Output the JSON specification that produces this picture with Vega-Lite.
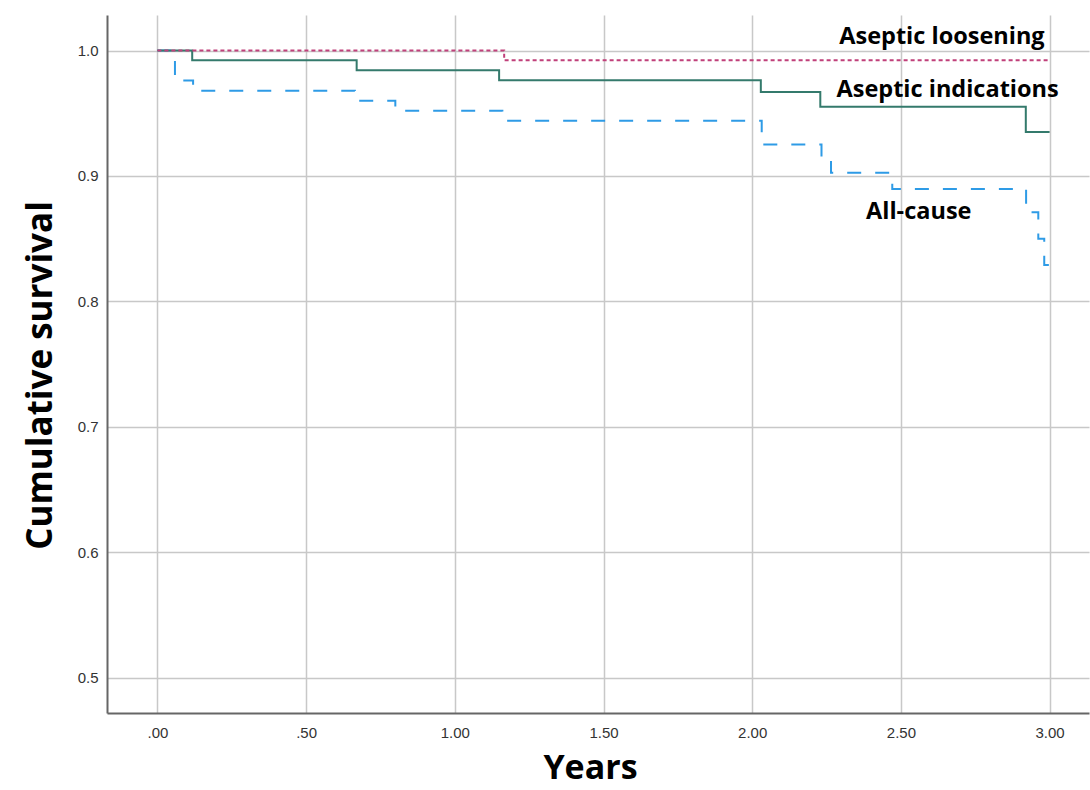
{
  "$schema": "https://vega.github.io/schema/vega-lite/v6.json",
  "width": 982,
  "height": 698,
  "autosize": {"type": "none"},
  "padding": {"left": 107, "top": 15, "right": 1, "bottom": 77},
  "background": "white",
  "config": {"view": {"stroke": null}},
  "datasets": {
    "curves": [
      {"series": "All-cause", "years": 0, "survival": 1.0},
      {"series": "All-cause", "years": 0.059, "survival": 0.976},
      {"series": "All-cause", "years": 0.12, "survival": 0.968},
      {"series": "All-cause", "years": 0.664, "survival": 0.960},
      {"series": "All-cause", "years": 0.80, "survival": 0.952},
      {"series": "All-cause", "years": 1.16, "survival": 0.944},
      {"series": "All-cause", "years": 2.032, "survival": 0.925},
      {"series": "All-cause", "years": 2.233, "survival": 0.915},
      {"series": "All-cause", "years": 2.265, "survival": 0.9026},
      {"series": "All-cause", "years": 2.471, "survival": 0.8896},
      {"series": "All-cause", "years": 2.921, "survival": 0.871},
      {"series": "All-cause", "years": 2.962, "survival": 0.850},
      {"series": "All-cause", "years": 2.982, "survival": 0.829},
      {"series": "All-cause", "years": 3.0, "survival": 0.829},
      {"series": "Aseptic indications", "years": 0, "survival": 1.0},
      {"series": "Aseptic indications", "years": 0.117, "survival": 0.9922},
      {"series": "Aseptic indications", "years": 0.670, "survival": 0.9842},
      {"series": "Aseptic indications", "years": 1.149, "survival": 0.9762},
      {"series": "Aseptic indications", "years": 2.029, "survival": 0.9669},
      {"series": "Aseptic indications", "years": 2.229, "survival": 0.9552},
      {"series": "Aseptic indications", "years": 2.920, "survival": 0.935},
      {"series": "Aseptic indications", "years": 3.0, "survival": 0.935},
      {"series": "Aseptic loosening", "years": 0, "survival": 1.0},
      {"series": "Aseptic loosening", "years": 1.166, "survival": 0.9922},
      {"series": "Aseptic loosening", "years": 3.0, "survival": 0.9922}
    ],
    "labels": [
      {"label": "Aseptic loosening", "years": 2.638, "survival": 1.0052},
      {"label": "Aseptic indications", "years": 2.657, "survival": 0.9632},
      {"label": "All-cause", "years": 2.560, "survival": 0.8654}
    ]
  },
  "layer": [
    {
      "data": {"name": "curves"},
      "transform": [{"filter": "datum.series === 'All-cause'"}],
      "mark": {"type": "line", "interpolate": "step-after", "strokeWidth": 2, "color": "#2e9be6", "strokeDash": [14, 14]},
      "encoding": {
        "x": {
          "field": "years", "type": "quantitative",
          "scale": {"domain": [-0.1695, 3.1325], "nice": false, "zero": false},
          "axis": {
            "values": [0, 0.5, 1, 1.5, 2, 2.5, 3],
            "labelExpr": "datum.value < 1 ? replace(format(datum.value, '.2f'), '0.', '.') : format(datum.value, '.2f')",
            "title": "Years",
            "grid": true, "gridColor": "#c8c8c8", "gridWidth": 1.5,
            "ticks": false,
            "domainColor": "#666666", "domainWidth": 2,
            "labelFont": "Liberation Sans", "labelFontSize": 15, "labelColor": "#333333", "labelPadding": 12,
            "titleFont": "Open Sans", "titleFontSize": 34, "titleFontWeight": "bold", "titleColor": "#000000",
            "titleBaseline": "alphabetic", "titleY": 65, "titleX": 483
          }
        },
        "y": {
          "field": "survival", "type": "quantitative",
          "scale": {"domain": [0.472, 1.0283], "nice": false, "zero": false},
          "axis": {
            "values": [0.5, 0.6, 0.7, 0.8, 0.9, 1.0],
            "format": ".1f",
            "title": "Cumulative survival",
            "grid": true, "gridColor": "#c8c8c8", "gridWidth": 1.5,
            "ticks": false,
            "domainColor": "#666666", "domainWidth": 2,
            "labelFont": "Liberation Sans", "labelFontSize": 15, "labelColor": "#333333", "labelPadding": 9,
            "titleFont": "Open Sans", "titleFontSize": 35, "titleFontWeight": "bold", "titleColor": "#000000",
            "titleBaseline": "alphabetic", "titleAngle": -90, "titleX": -56, "titleY": 360
          }
        }
      }
    },
    {
      "data": {"name": "curves"},
      "transform": [{"filter": "datum.series === 'Aseptic indications'"}],
      "mark": {"type": "line", "interpolate": "step-after", "strokeWidth": 2, "color": "#347a6c"},
      "encoding": {
        "x": {"field": "years", "type": "quantitative"},
        "y": {"field": "survival", "type": "quantitative"}
      }
    },
    {
      "data": {"name": "curves"},
      "transform": [{"filter": "datum.series === 'Aseptic loosening'"}],
      "mark": {"type": "line", "interpolate": "step-after", "strokeWidth": 2, "color": "#c0407a", "strokeDash": [4, 3]},
      "encoding": {
        "x": {"field": "years", "type": "quantitative"},
        "y": {"field": "survival", "type": "quantitative"}
      }
    },
    {
      "data": {"name": "labels"},
      "mark": {"type": "text", "font": "Open Sans", "fontSize": 23.5, "fontWeight": "bold", "color": "#000000", "align": "center", "baseline": "alphabetic"},
      "encoding": {
        "x": {"field": "years", "type": "quantitative"},
        "y": {"field": "survival", "type": "quantitative"},
        "text": {"field": "label"}
      }
    }
  ]
}
